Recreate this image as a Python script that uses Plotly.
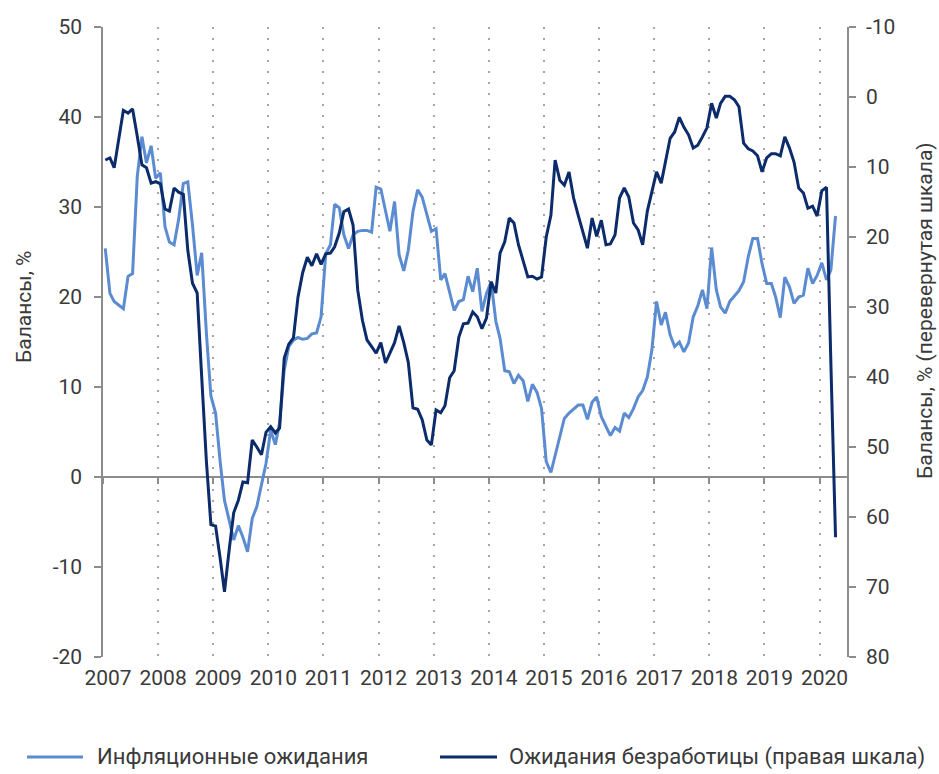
import pandas as pd
import plotly.graph_objects as go

# ---- data (monthly, Jan 2007 - Apr 2020) ----
start_month = "2007-01-01"
n_months = 160

inflation_expectations = [
    25.4, 20.4, 19.5, 19.1, 18.7, 22.3, 22.6, 33.4, 37.8, 34.9, 36.8, 33.2,   # 2007
    33.8, 27.8, 26.1, 25.8, 28.6, 32.6, 32.8, 28.0, 22.4, 24.9, 16.0, 9.0,    # 2008
    7.1, 1.6, -2.6, -4.8, -7.0, -5.4, -6.7, -8.3, -4.6, -3.3, -0.7, 1.5,      # 2009
    5.2, 3.6, 6.0, 11.9, 14.5, 15.2, 15.5, 15.3, 15.4, 15.9, 16.0, 17.8,      # 2010
    24.8, 25.8, 30.3, 29.9, 26.9, 25.4, 26.9, 27.3, 27.4, 27.4, 27.2, 32.2,   # 2011
    32.0, 29.5, 27.3, 30.6, 24.7, 22.9, 25.2, 29.5, 31.9, 31.1, 29.3, 27.3,   # 2012
    27.6, 21.9, 22.6, 20.4, 18.5, 19.5, 19.7, 22.3, 20.6, 23.2, 18.4, 20.4,   # 2013
    21.7, 17.3, 15.4, 11.8, 11.7, 10.4, 11.3, 10.7, 8.4, 10.3, 9.4, 7.6,      # 2014
    1.7, 0.5, 2.4, 4.5, 6.5, 7.1, 7.5, 8.0, 8.0, 6.4, 8.3, 8.9,               # 2015
    6.7, 5.6, 4.6, 5.5, 5.1, 7.1, 6.6, 7.6, 8.9, 9.6, 11.1, 14.1,             # 2016
    19.5, 16.9, 18.3, 15.8, 14.5, 15.0, 13.9, 14.9, 17.8, 19.0, 20.8, 18.7,   # 2017
    25.5, 20.8, 18.9, 18.2, 19.5, 20.1, 20.7, 21.7, 24.5, 26.5, 26.5, 23.7,   # 2018
    21.5, 21.5, 20.0, 17.7, 22.2, 21.1, 19.3, 20.0, 20.2, 23.2, 21.5, 22.4,   # 2019
    23.8, 21.9, 23.0, 29.0,                                                   # 2020
]

unemployment_expectations = [
    9.0, 8.7, 10.1, 6.0, 1.9, 2.3, 1.7, 5.6, 9.7, 10.1, 12.3, 12.1,           # 2007
    12.4, 16.0, 16.3, 13.0, 13.6, 13.9, 21.9, 26.6, 28.0, 40.0, 52.0, 61.1,   # 2008
    61.3, 66.0, 70.7, 64.7, 59.4, 57.6, 55.0, 55.1, 49.0, 50.0, 51.1, 47.9,   # 2009
    47.1, 48.0, 47.3, 37.3, 35.3, 34.4, 28.6, 25.1, 22.9, 24.1, 22.4, 23.9,   # 2010
    22.4, 22.3, 21.4, 19.4, 16.4, 16.0, 18.3, 27.6, 31.9, 34.7, 35.7, 36.6,   # 2011
    35.1, 38.0, 36.6, 35.1, 32.7, 35.1, 37.9, 44.4, 44.6, 46.1, 49.0, 49.7,   # 2012
    44.7, 45.1, 44.1, 40.1, 39.1, 34.3, 32.4, 32.3, 30.7, 31.4, 33.1, 31.6,   # 2013
    26.4, 28.0, 22.3, 20.7, 17.3, 18.0, 21.1, 23.3, 25.7, 25.6, 26.0, 25.7,   # 2014
    20.0, 16.9, 9.0, 11.9, 12.6, 10.7, 14.4, 16.9, 19.3, 21.6, 17.3, 19.9,    # 2015
    17.6, 21.1, 21.0, 19.7, 14.4, 13.0, 14.3, 18.0, 19.0, 21.1, 16.3, 13.3,   # 2016
    10.7, 12.3, 9.4, 5.9, 5.0, 2.9, 4.3, 5.4, 7.3, 6.9, 5.7, 4.4,             # 2017
    0.9, 3.0, 0.9, -0.1, -0.1, 0.4, 1.4, 6.6, 7.4, 7.7, 8.4, 10.7,            # 2018
    8.7, 8.1, 8.1, 8.4, 5.7, 7.3, 9.3, 13.0, 13.7, 15.9, 15.6, 17.0,          # 2019
    13.4, 12.9, 37.9, 62.9,                                                   # 2020
]

series_names = ["Инфляционные ожидания", "Ожидания безработицы (правая шкала)"]
left_title = "Балансы, %"
right_title = "Балансы, % (перевернутая шкала)"
x_range = ["2007-01-01", "2020-07-01"]
left_ticks = [-20, -10, 0, 10, 20, 30, 40, 50]
right_ticks = [-10, 0, 10, 20, 30, 40, 50, 60, 70, 80]
left_range = [-20, 50]
right_range = [80, -10]

# points sit in the middle of each monthly slot
months = pd.date_range(start_month, periods=n_months, freq="MS") + pd.Timedelta(days=15)

LIGHT = "#5b8bd0"
DARK = "#0b2b6b"
AXIS = "#8c8c8c"
TXT = "#3a3a3a"
FONT = "Roboto"

fig = go.Figure()
fig.add_trace(go.Scatter(
    x=months, y=inflation_expectations, name=series_names[0],
    mode="lines", line=dict(color=LIGHT, width=3), xaxis="x", yaxis="y",
    showlegend=False,
))
fig.add_trace(go.Scatter(
    x=months, y=unemployment_expectations, name=series_names[1],
    mode="lines", line=dict(color=DARK, width=3), xaxis="x", yaxis="y2",
    showlegend=False,
))
# carrier trace for the x-axis drawn along the zero line (invisible)
fig.add_trace(go.Scatter(
    x=months, y=inflation_expectations, mode="lines",
    line=dict(width=0, color="rgba(0,0,0,0)"), xaxis="x2", yaxis="y",
    hoverinfo="skip", showlegend=False,
))

# manual legend (long line samples like the original)
def px_x(p):
    return (p - 103) / 744.0

legend_y = (657 - 757) / 630.0
for (x0, x1, tx, col, name) in [
    (27, 83, 95, LIGHT, series_names[0]),
    (440, 497, 507, DARK, series_names[1]),
]:
    fig.add_shape(type="line", xref="paper", yref="paper",
                  x0=px_x(x0), x1=px_x(x1), y0=legend_y, y1=legend_y,
                  line=dict(color=col, width=3))
    fig.add_annotation(xref="paper", yref="paper", x=px_x(tx), y=legend_y,
                       text=name, showarrow=False, xanchor="left", yanchor="middle",
                       font=dict(family=FONT, size=22, color=TXT))

# axis titles
fig.add_annotation(xref="paper", yref="paper", x=px_x(24), y=(657 - 307) / 630.0,
                   text=left_title, textangle=-90, showarrow=False,
                   xanchor="center", yanchor="middle",
                   font=dict(family=FONT, size=21, color=TXT))
fig.add_annotation(xref="paper", yref="paper", x=px_x(925), y=(657 - 310) / 630.0,
                   text=right_title, textangle=-90, showarrow=False,
                   xanchor="center", yanchor="middle",
                   font=dict(family=FONT, size=21, color=TXT))

fig.update_layout(
    width=939, height=774,
    margin=dict(l=103, r=92, t=27, b=117),
    paper_bgcolor="white", plot_bgcolor="white",
    font=dict(family=FONT, size=21, color=TXT),
    showlegend=False,
    xaxis=dict(
        type="date", range=x_range, tick0="2007-01-01", dtick="M12",
        tickformat="%Y", ticks="", showline=False, zeroline=False,
        showgrid=True, griddash="2px,9px", gridcolor="#a6a6a6", gridwidth=2,
        ticklabelshift=5, ticklabelstandoff=6,
        tickfont=dict(family=FONT, size=21, color=TXT),
    ),
    xaxis2=dict(
        type="date", matches="x", overlaying="x", anchor="free",
        position=(0 - left_range[0]) / (left_range[1] - left_range[0]),
        side="bottom", tick0="2007-01-01", dtick="M12",
        showticklabels=False, showgrid=False, zeroline=False,
        showline=True, linecolor=AXIS, linewidth=1.5,
        ticks="outside", ticklen=6, tickwidth=1.5, tickcolor=AXIS,
        layer="below traces",
    ),
    yaxis=dict(
        range=left_range, tickmode="array", tickvals=left_ticks,
        ticktext=[str(v) for v in left_ticks],
        showgrid=False, zeroline=False,
        showline=True, linecolor=AXIS, linewidth=1.5,
        ticks="outside", ticklen=7, tickwidth=1.5, tickcolor=AXIS,
        ticklabelstandoff=8,
        tickfont=dict(family=FONT, size=21, color=TXT),
    ),
    yaxis2=dict(
        range=right_range, tickmode="array", tickvals=right_ticks,
        ticktext=[str(v) for v in right_ticks],
        overlaying="y", side="right",
        showgrid=False, zeroline=False,
        showline=True, linecolor=AXIS, linewidth=1.5,
        ticks="outside", ticklen=7, tickwidth=1.5, tickcolor=AXIS,
        ticklabelstandoff=6,
        tickfont=dict(family=FONT, size=21, color=TXT),
    ),
)

fig.write_html(
    "out.html",
    config={"displayModeBar": False},
    post_script="document.body.style.margin='0';document.body.style.overflow='hidden';",
)
